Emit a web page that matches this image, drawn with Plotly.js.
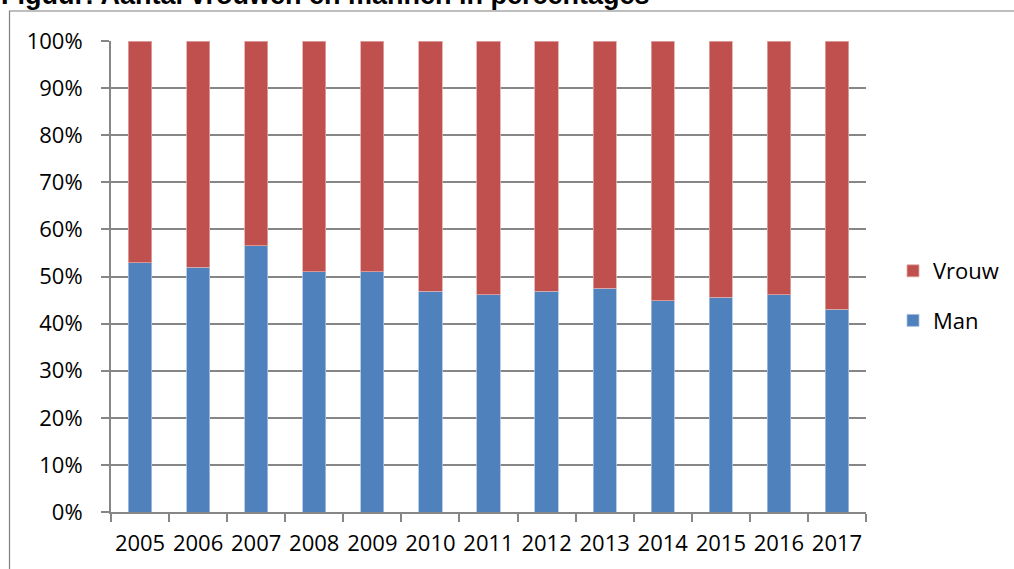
<!DOCTYPE html>
<html><head><meta charset="utf-8">
<script src="https://cdn.plot.ly/plotly-3.0.1.min.js"></script>
<style>html,body{margin:0;padding:0;background:#fff}#c{width:1014px;height:569px}</style>
</head><body><div id="c"></div>
<script>
const years = ['2005','2006','2007','2008','2009','2010','2011','2012','2013','2014','2015','2016','2017'];
const man = [52.9, 52.0, 56.5, 51.0, 51.0, 46.9, 46.1, 46.9, 47.5, 44.9, 45.6, 46.1, 43.0];
const vrouw = man.map(v => +(100 - v).toFixed(1));
const yTicks = [0,10,20,30,40,50,60,70,80,90,100];
const yTickText = yTicks.map(v => v + '%');
const titleText = 'Figuur: Aantal vrouwen en mannen in percentages';

const L = 111, R = 866, T = 41, B = 512;
const px = x => (x - L) / (R - L);
const py = y => (B - y) / (B - T);
const font = 'Open Sans, Liberation Sans, sans-serif';

const traces = [
  {type:'bar', name:'Man', x: years, y: man, legendgroup:'m', legendrank:2,
   marker:{color:'#4F81BD', line:{color:'#a9c1e3', width:0.8}}},
  {type:'bar', name:'Vrouw', x: years, y: vrouw, legendgroup:'v', legendrank:1,
   marker:{color:'#C0504D', line:{color:'#e0a9a7', width:0.8}}}
];

const layout = {
  width:1014, height:569,
  margin:{l:L, r:1014-R, t:T, b:569-B, autoexpand:false},
  barmode:'stack', bargap:0.6,
  paper_bgcolor:'#fff', plot_bgcolor:'#fff',
  font:{family:font, size:22, color:'#000'},
  showlegend:true,
  legend:{x:px(893), y:py(296), xanchor:'left', yanchor:'middle', bgcolor:'rgba(0,0,0,0)',
          traceorder:'grouped', tracegroupgap:18, font:{family:font, size:22},
          itemwidth:30},
  xaxis:{type:'category', showgrid:false, showline:true, linecolor:'#868686', linewidth:2,
         ticks:'outside', tickson:'boundaries', ticklen:8, tickcolor:'#868686', tickwidth:2,
         tickangle:0, ticklabelstandoff:11, tickfont:{family:font, size:22}, fixedrange:true},
  yaxis:{range:[0,100], tickvals:yTicks, ticktext:yTickText, showgrid:true,
         gridcolor:'#868686', gridwidth:2, showline:true, linecolor:'#868686', linewidth:2,
         ticks:'outside', ticklen:8, tickcolor:'#868686', tickwidth:2, zeroline:false,
         ticklabelstandoff:14, tickfont:{family:font, size:22}, fixedrange:true},
  shapes:[
    {type:'rect', xref:'paper', yref:'paper', x0:px(9.5), x1:px(1030), y0:py(580), y1:py(11),
     line:{color:'#7f7f7f', width:1.2}, fillcolor:'rgba(0,0,0,0)', layer:'below'}
  ],
  annotations:[
    {text:'<b>'+titleText+'</b>', xref:'paper', yref:'paper', x:px(-1), y:py(12),
     xanchor:'left', yanchor:'bottom', showarrow:false,
     font:{family:'Liberation Sans, Arial, sans-serif', size:27, color:'#000'}}
  ]
};
Plotly.newPlot('c', traces, layout, {displayModeBar:false, staticPlot:true});
</script></body></html>
